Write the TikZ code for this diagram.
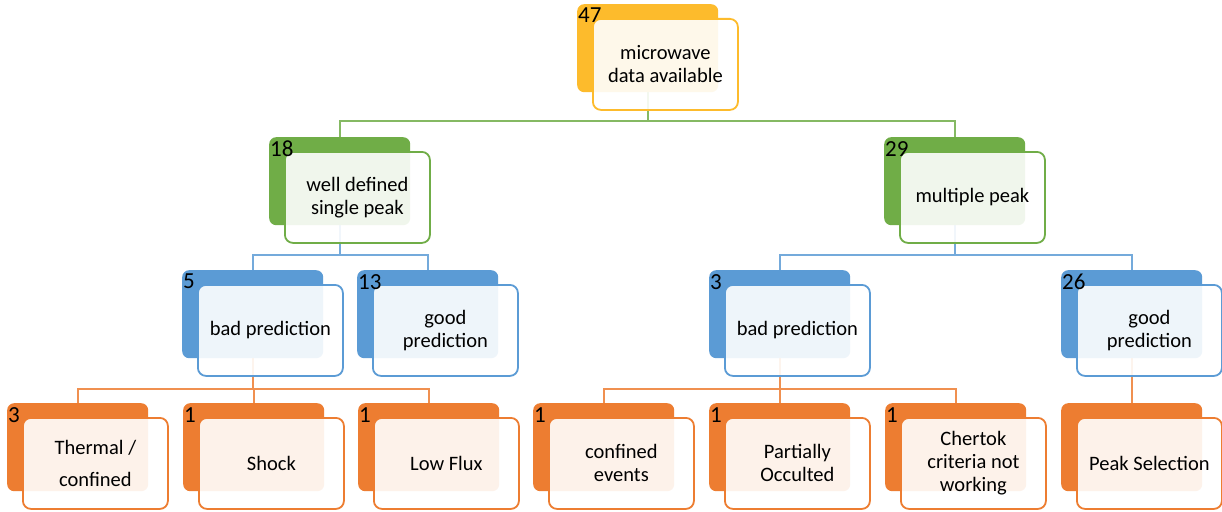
\documentclass[tikz,border=0pt]{standalone}
\usepackage{fontspec}
\setmainfont{Carlito}
\usetikzlibrary{backgrounds}

\definecolor{cgold}{HTML}{FDBB2C}
\definecolor{cgreen}{HTML}{70AD47}
\definecolor{cblue}{HTML}{5B9BD5}
\definecolor{corange}{HTML}{ED7D31}

\tikzset{
  backbox/.style={fill=#1, rounded corners=7pt, minimum width=141pt,
    minimum height=88pt, anchor=north west, inner sep=0pt},
  frontbox/.style={draw=#1, line width=1.8pt, fill=white, fill opacity=0.9,
    text opacity=1, rounded corners=8pt, minimum width=145pt,
    minimum height=91pt, anchor=north west, inner sep=0pt, align=center,
    font=\fontsize{20.5}{23}\selectfont},
  countlabel/.style={anchor=north west, inner xsep=1pt, inner ysep=4pt,
    font=\fontsize{23}{26}\selectfont},
  bus/.style={draw=#1!85!white, line width=1.8pt},
}

% one entry: back card with its count, front card with the caption
% #1 name, #2 x, #3 y, #4 colour, #5 count, #6 caption
\newcommand\stackcard[6]{%
  \node[backbox=#4] (b#1) at (#2,#3) {};
  \node[frontbox=#4] (f#1) at ([shift={(15,14)}]b#1.north west) {#6};
  \node[countlabel] (n#1) at (b#1.north west) {#5};
}

\begin{document}
\begin{tikzpicture}[x=1pt,y=-1pt]
  \useasboundingbox (0,0) rectangle (1222,511);

  % horizontal bus levels
  \coordinate (busA) at (0,121);
  \coordinate (busB) at (0,255);
  \coordinate (busC) at (0,389);

  % level 1
  \stackcard{top}{577}{4}{cgold}{47}{microwave\\data available}
  % level 2
  \stackcard{single}{269}{137}{cgreen}{18}{well defined\\single peak}
  \stackcard{multi}{884}{137}{cgreen}{29}{multiple peak}
  % level 3
  \stackcard{badA}{182}{270}{cblue}{5}{bad prediction}
  \stackcard{goodA}{357}{270}{cblue}{13}{good\\prediction}
  \stackcard{badB}{709}{270}{cblue}{3}{bad prediction}
  \stackcard{goodB}{1061}{270}{cblue}{26}{good\\prediction}
  % level 4
  \stackcard{thermal}{7}{403}{corange}{3}{Thermal /\\[9pt]confined}
  \stackcard{shock}{183}{403}{corange}{1}{Shock}
  \stackcard{lowflux}{358}{403}{corange}{1}{Low Flux}
  \stackcard{confined}{533}{403}{corange}{1}{confined\\events}
  \stackcard{occulted}{709}{403}{corange}{1}{Partially\\Occulted}
  \stackcard{chertok}{885}{403}{corange}{1}{Chertok\\criteria not\\working}
  \stackcard{peaksel}{1061}{403}{corange}{}{Peak Selection}

  % page background and tree connectors behind the cards
  \begin{scope}[on background layer]
    \fill[white] (0,0) rectangle (1222,511);

    \draw[bus=cgreen] (btop.south) -- (btop.south |- busA) -| (bsingle.north);
    \draw[bus=cgreen] (btop.south) -- (btop.south |- busA) -| (bmulti.north);

    \draw[bus=cblue] (bsingle.south) -- (bsingle.south |- busB) -| (bbadA.north);
    \draw[bus=cblue] (bsingle.south) -- (bsingle.south |- busB) -| (bgoodA.north);
    \draw[bus=cblue] (bmulti.south) -- (bmulti.south |- busB) -| (bbadB.north);
    \draw[bus=cblue] (bmulti.south) -- (bmulti.south |- busB) -| (bgoodB.north);

    \draw[bus=corange] (bbadA.south) -- (bbadA.south |- busC) -| (bthermal.north);
    \draw[bus=corange] (bbadA.south) -- (bbadA.south |- busC) -| (bshock.north);
    \draw[bus=corange] (bbadA.south) -- (bbadA.south |- busC) -| (blowflux.north);
    \draw[bus=corange] (bbadB.south) -- (bbadB.south |- busC) -| (bconfined.north);
    \draw[bus=corange] (bbadB.south) -- (bbadB.south |- busC) -| (bocculted.north);
    \draw[bus=corange] (bbadB.south) -- (bbadB.south |- busC) -| (bchertok.north);
    \draw[bus=corange] (bgoodB.south) -- (bpeaksel.north);
  \end{scope}
\end{tikzpicture}
\end{document}
